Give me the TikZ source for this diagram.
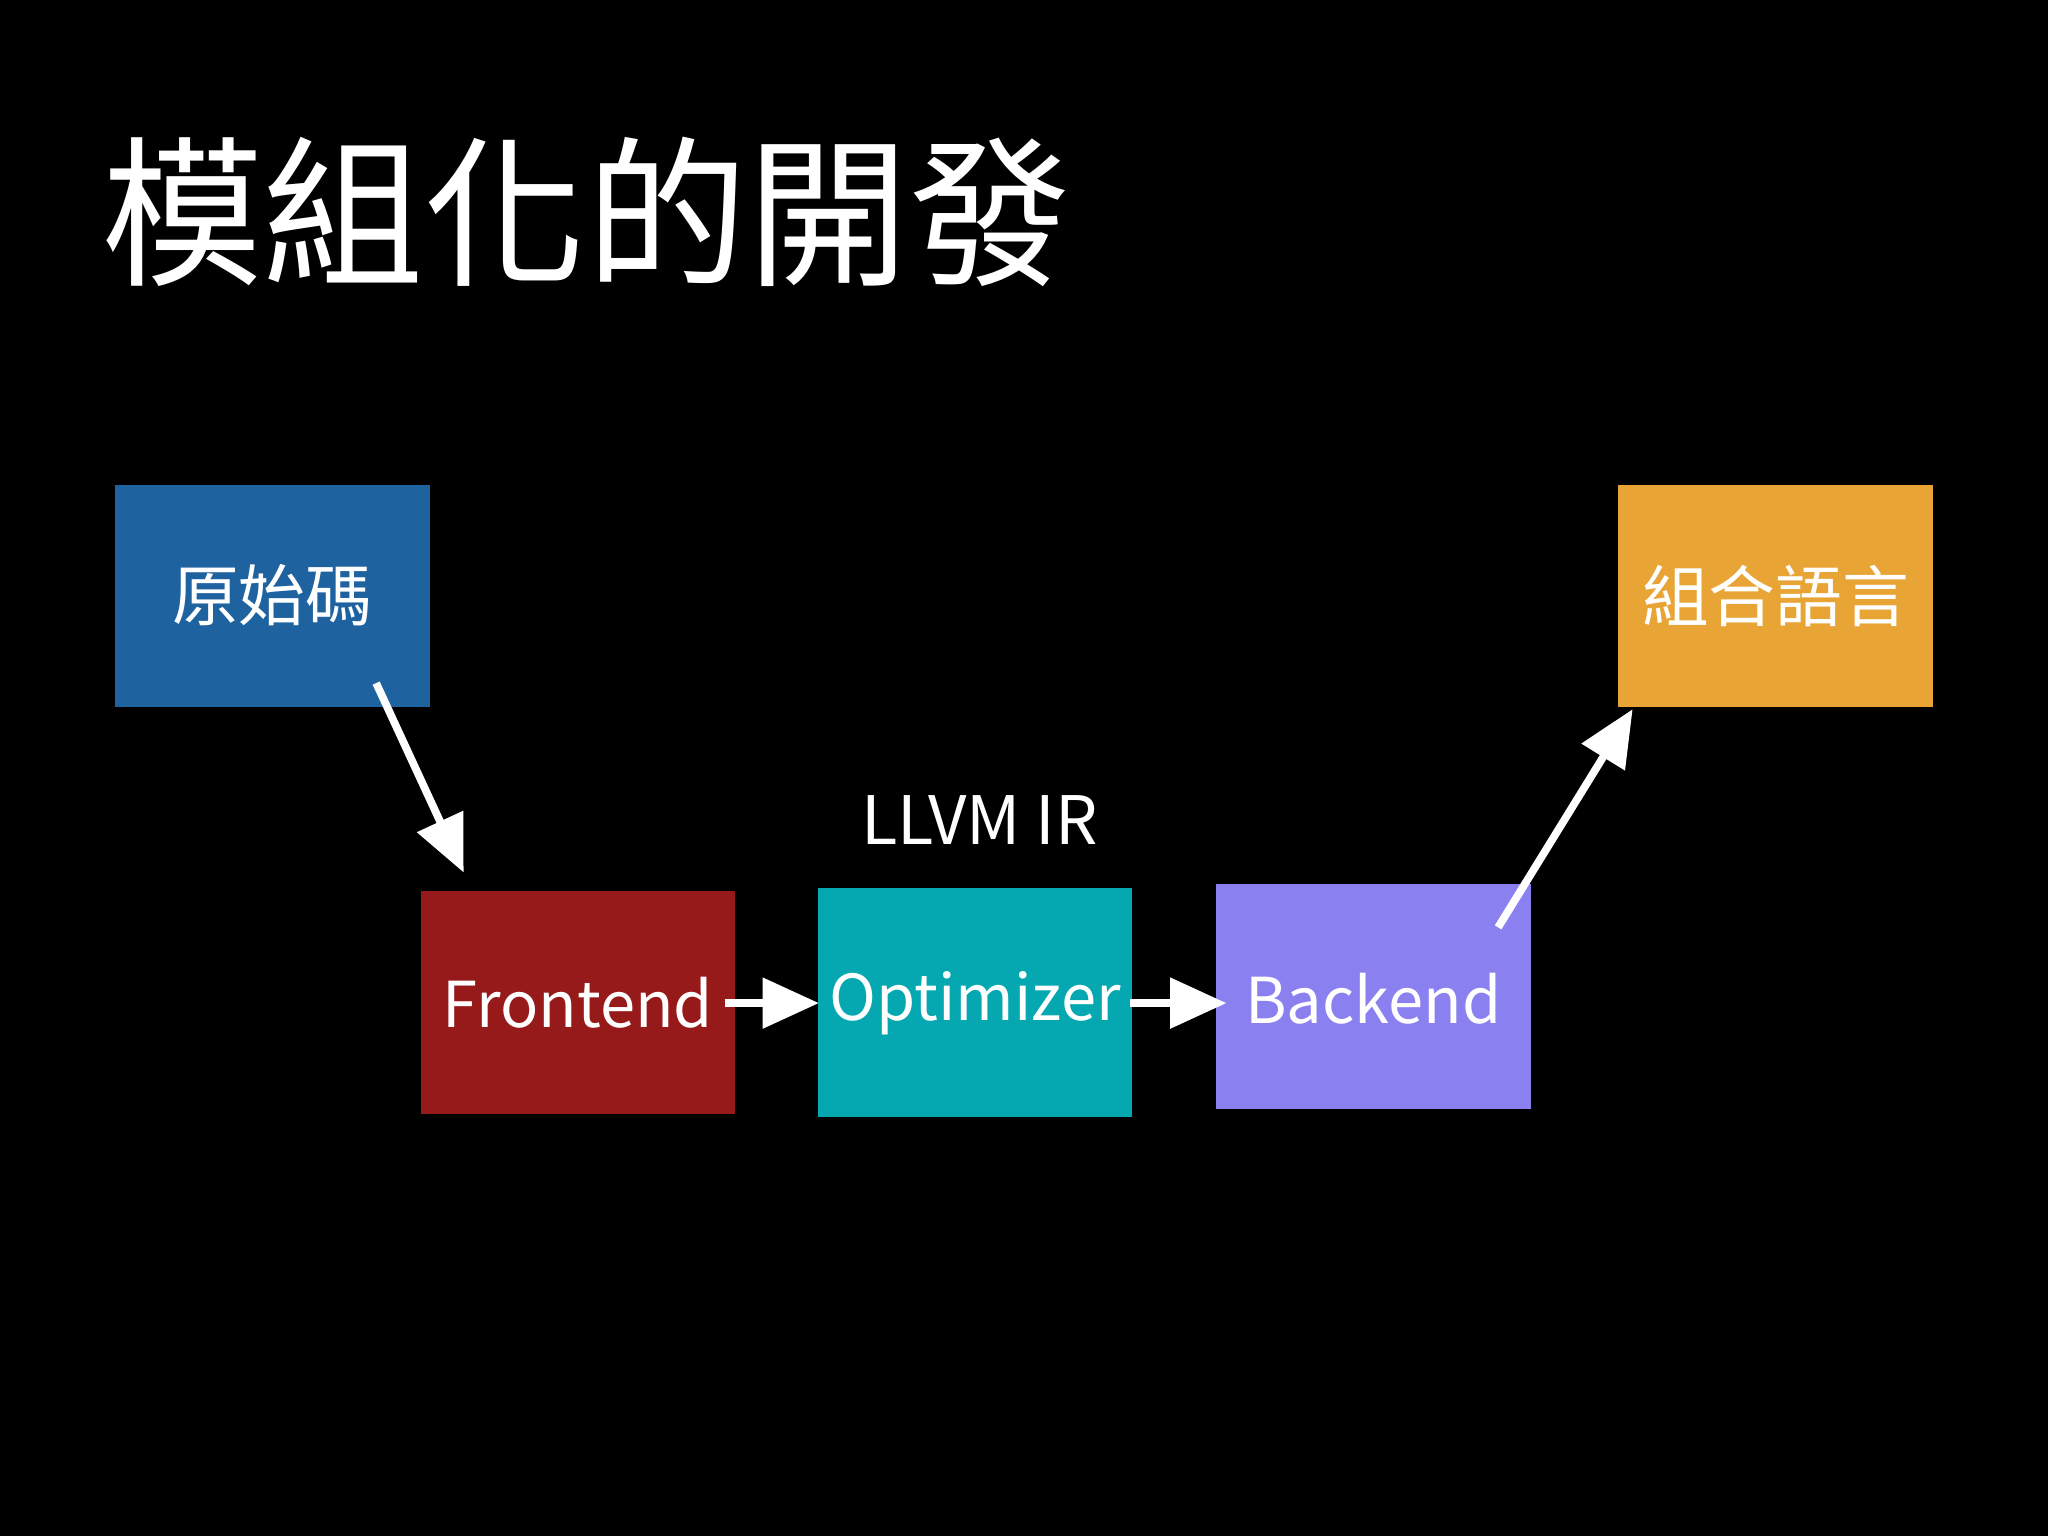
\documentclass[tikz,border=0pt]{standalone}
\usepackage{fontspec}
\setmainfont{Noto Sans CJK TC}
\usetikzlibrary{arrows.meta}
\definecolor{cblue}{HTML}{1F62A0}
\definecolor{corange}{HTML}{E8A536}
\definecolor{cred}{HTML}{971A1A}
\definecolor{cteal}{HTML}{05A8B0}
\definecolor{cpurple}{HTML}{8A80F0}
\begin{document}
\begin{tikzpicture}[x=0.013061cm,y=-0.013061cm,
  box/.style={draw=none,inner sep=0pt,text=white,font=\fontsize{19}{22}\selectfont},
  arr/.style={draw=white,line width=2.2pt,-{Triangle[length=16pt,width=14pt]}}]
\fill[black] (0,0) rectangle (1568,1176);
\useasboundingbox (0,0) rectangle (1568,1176);
\node[anchor=west,text=white,font=\fontsize{46}{50}\selectfont] (title) at (68,162) {模組化的開發};
\fill[cblue] (88,371) rectangle (329,541);
\node[box] (src) at (208.5,456) {原始碼};
\fill[corange] (1239,371) rectangle (1480,541);
\node[box] (asm) at (1359.5,456) {組合語言};
\fill[cred] (322,682) rectangle (563,853);
\node[box,font=\fontsize{18}{22}\selectfont] (fe) at (442.5,768) {Frontend};
\fill[cteal] (626,680) rectangle (867,855);
\node[box,font=\fontsize{18}{22}\selectfont] (opt) at (746.5,768) {Optimizer};
\fill[cpurple] (931,677) rectangle (1172,849);
\node[box,font=\fontsize{18}{22}\selectfont] (be) at (1051.5,765) {Backend};
\node[text=white,font=\fontsize{19}{22}\selectfont] (ir) at (750,628) {LLVM IR};
\coordinate (a1) at (288,523); \coordinate (a2) at (355,668);
\coordinate (b1) at (555,768); \coordinate (b2) at (627,768);
\coordinate (c1) at (865,768); \coordinate (c2) at (939,768);
\coordinate (d1) at (1147,710); \coordinate (d2) at (1250,543);
\draw[arr] (a1) -- (a2);
\draw[arr] (b1) -- (b2);
\draw[arr] (c1) -- (c2);
\draw[arr] (d1) -- (d2);
\end{tikzpicture}
\end{document}
